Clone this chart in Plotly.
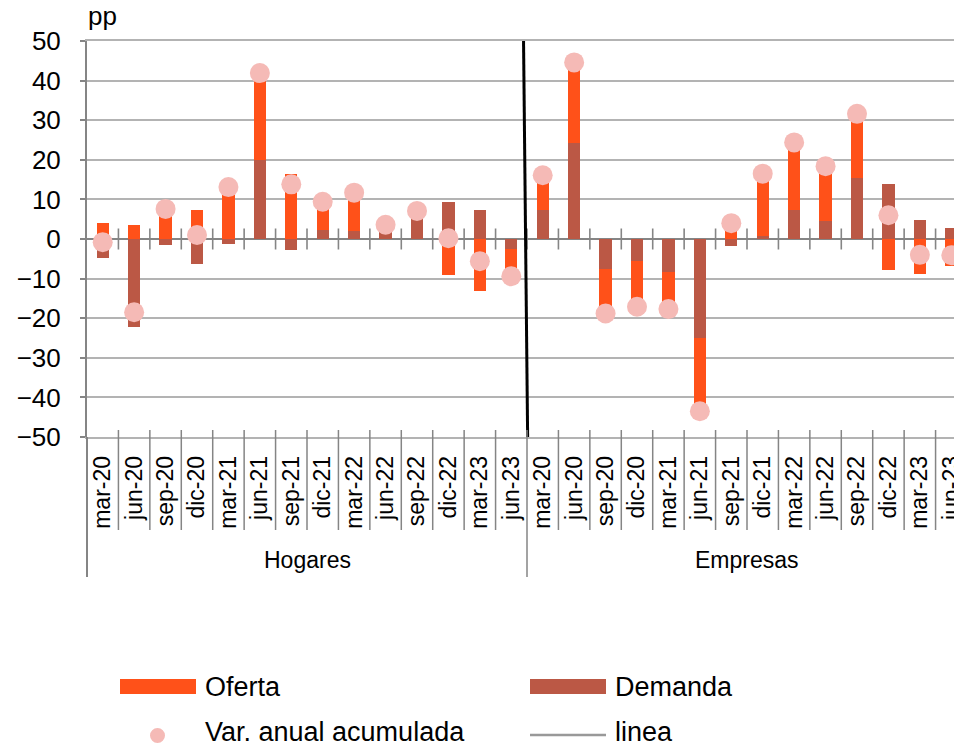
import plotly.graph_objects as go

# ---------------- data ----------------
quarters = ["mar-20", "jun-20", "sep-20", "dic-20", "mar-21", "jun-21", "sep-21",
            "dic-21", "mar-22", "jun-22", "sep-22", "dic-22", "mar-23", "jun-23"]
groups = ["Hogares", "Empresas"]

hog_oferta = [4.0, 3.6, 9.0, 7.2, 14.4, 21.9, 16.4, 7.2, 9.8, 0.0, 1.1, -9.1, -13.1, -6.9]
hog_demanda = [-4.7, -22.3, -1.4, -6.2, -1.3, 20.0, -2.7, 2.2, 1.9, 3.6, 6.0, 9.3, 7.4, -2.6]
hog_var = [-0.8, -18.5, 7.6, 1.0, 13.1, 41.9, 13.8, 9.4, 11.7, 3.6, 7.1, 0.2, -5.6, -9.4]

emp_oferta = [8.8, 20.3, -11.2, -11.6, -9.3, -18.4, 5.8, 15.7, 17.0, 13.8, 16.3, -7.8, -8.8, -6.9]
emp_demanda = [7.3, 24.3, -7.6, -5.5, -8.4, -25.1, -1.7, 0.8, 7.4, 4.6, 15.3, 13.8, 4.7, 2.9]
emp_var = [16.1, 44.6, -18.8, -17.1, -17.7, -43.5, 4.0, 16.5, 24.4, 18.4, 31.6, 6.0, -4.0, -4.1]

linea_x = [13.39, 13.52]
linea_y = [50, -50]

y_ticks = list(range(-50, 51, 10))

# ---------------- styles ----------------
C_OFERTA = "#FF5119"
C_DEMANDA = "#BB5845"
C_VAR = "#F5BAB6"
C_GRID = "#B3B3B3"
C_AXIS = "#858585"
FONT = "Liberation Sans, Arial, sans-serif"

labels = quarters + quarters
xs = list(range(len(labels)))
oferta = hog_oferta + emp_oferta
demanda = hog_demanda + emp_demanda
var = hog_var + emp_var
n_h = len(quarters)

# figure geometry (pixels); the chart runs a little past the right edge of the window
H = 746
L, R, T, B = 87, 0, 41, 309
cat_w = 440 / n_h
W = int(round(L + cat_w * len(labels)))
plot_w = W - L - R
plot_h = H - T - B


def px_x(px):
    return (px - L) / plot_w


def px_y(py):
    return (H - B - py) / plot_h


fig = go.Figure()
fig.add_trace(go.Bar(x=xs, y=demanda, name="Demanda", marker=dict(color=C_DEMANDA, line=dict(width=0)),
                     width=0.39, showlegend=False))
fig.add_trace(go.Bar(x=xs, y=oferta, name="Oferta", marker=dict(color=C_OFERTA, line=dict(width=0)),
                     width=0.39, showlegend=False))

# tick crosses on the zero axis at category boundaries
bounds = [i + 0.5 for i in range(len(labels) - 1)]
fig.add_trace(go.Scatter(x=bounds, y=[0] * len(bounds), mode="markers", hoverinfo="skip",
                         marker=dict(symbol="line-ns", size=15, line=dict(color=C_AXIS, width=1.6)),
                         showlegend=False))

fig.add_trace(go.Scatter(x=xs, y=var, mode="markers", name="Var. anual acumulada",
                         marker=dict(color=C_VAR, size=20, line=dict(width=0)),
                         cliponaxis=False, showlegend=False))
fig.add_trace(go.Scatter(x=linea_x, y=linea_y, mode="lines", name="linea",
                         line=dict(color="black", width=3), showlegend=False))

# dividers below the plot
shapes = []
for b in bounds + [len(labels) - 0.5]:
    long_div = abs(b - (n_h - 0.5)) < 1e-9 or b > len(labels) - 1
    shapes.append(dict(type="line", xref="x", yref="paper", x0=b, x1=b,
                       y0=px_y(430), y1=px_y(577 if long_div else 530),
                       line=dict(color=C_AXIS, width=1.5)))
shapes.append(dict(type="line", xref="paper", yref="paper", x0=0, x1=0,
                   y0=px_y(437), y1=px_y(577), line=dict(color=C_AXIS, width=2)))

# legend (drawn)
shapes.append(dict(type="rect", xref="paper", yref="paper", x0=px_x(120), x1=px_x(196),
                   y0=px_y(679), y1=px_y(694), fillcolor=C_OFERTA, line=dict(width=0)))
shapes.append(dict(type="rect", xref="paper", yref="paper", x0=px_x(530), x1=px_x(606),
                   y0=px_y(679), y1=px_y(694), fillcolor=C_DEMANDA, line=dict(width=0)))
shapes.append(dict(type="circle", xref="paper", yref="paper", x0=px_x(150), x1=px_x(165),
                   y0=px_y(728), y1=px_y(743), fillcolor=C_VAR, line=dict(width=0)))
shapes.append(dict(type="line", xref="paper", yref="paper", x0=px_x(530), x1=px_x(606),
                   y0=px_y(735), y1=px_y(735), line=dict(color="#999999", width=2.5)))

annotations = []
for txt, x, y in [("Oferta", 203, 687), ("Demanda", 613, 687),
                  ("Var. anual acumulada", 203, 732), ("linea", 613, 732)]:
    annotations.append(dict(text=txt, xref="paper", yref="paper", x=px_x(x), y=px_y(y),
                            xanchor="left", yanchor="middle", showarrow=False,
                            font=dict(family=FONT, size=27, color="black")))
for i, g in enumerate(groups):
    annotations.append(dict(text=g, xref="x", yref="paper", x=i * n_h + (n_h - 1) / 2,
                            y=px_y(560), xanchor="center", yanchor="middle", showarrow=False,
                            font=dict(family=FONT, size=23, color="black")))
annotations.append(dict(text="pp", xref="paper", yref="paper", x=px_x(86), y=px_y(16),
                        xanchor="left", yanchor="middle", showarrow=False,
                        font=dict(family=FONT, size=26, color="black")))

fig.update_layout(
    width=W, height=H, autosize=False,
    margin=dict(l=L, r=R, t=T, b=B, pad=0),
    paper_bgcolor="white", plot_bgcolor="white",
    barmode="relative", bargap=0,
    showlegend=False,
    shapes=shapes, annotations=annotations,
    font=dict(family=FONT, color="black"),
    xaxis=dict(range=[-0.5, len(labels) - 0.5], tickmode="array", tickvals=xs, ticktext=labels,
               tickangle=-90, ticks="", showgrid=False, zeroline=False,
               showline=True, linecolor=C_GRID, linewidth=1.5, mirror=True,
               ticklabelstandoff=8, tickfont=dict(family=FONT, size=23, color="black")),
    yaxis=dict(range=[-50, 50], tickmode="array", tickvals=y_ticks,
               showgrid=True, gridcolor=C_GRID, gridwidth=1.5,
               zeroline=True, zerolinecolor=C_AXIS, zerolinewidth=2,
               showline=True, linecolor=C_AXIS, linewidth=2,
               ticks="outside", ticklen=5, tickcolor=C_AXIS, tickwidth=1.5,
               ticklabelstandoff=14, tickfont=dict(family=FONT, size=26, color="black")),
)

post = ("document.documentElement.style.margin='0';document.body.style.margin='0';"
        "document.documentElement.style.overflow='hidden';document.body.style.overflow='hidden';")
fig.write_html("out.html", post_script=post, config={"displayModeBar": False})
